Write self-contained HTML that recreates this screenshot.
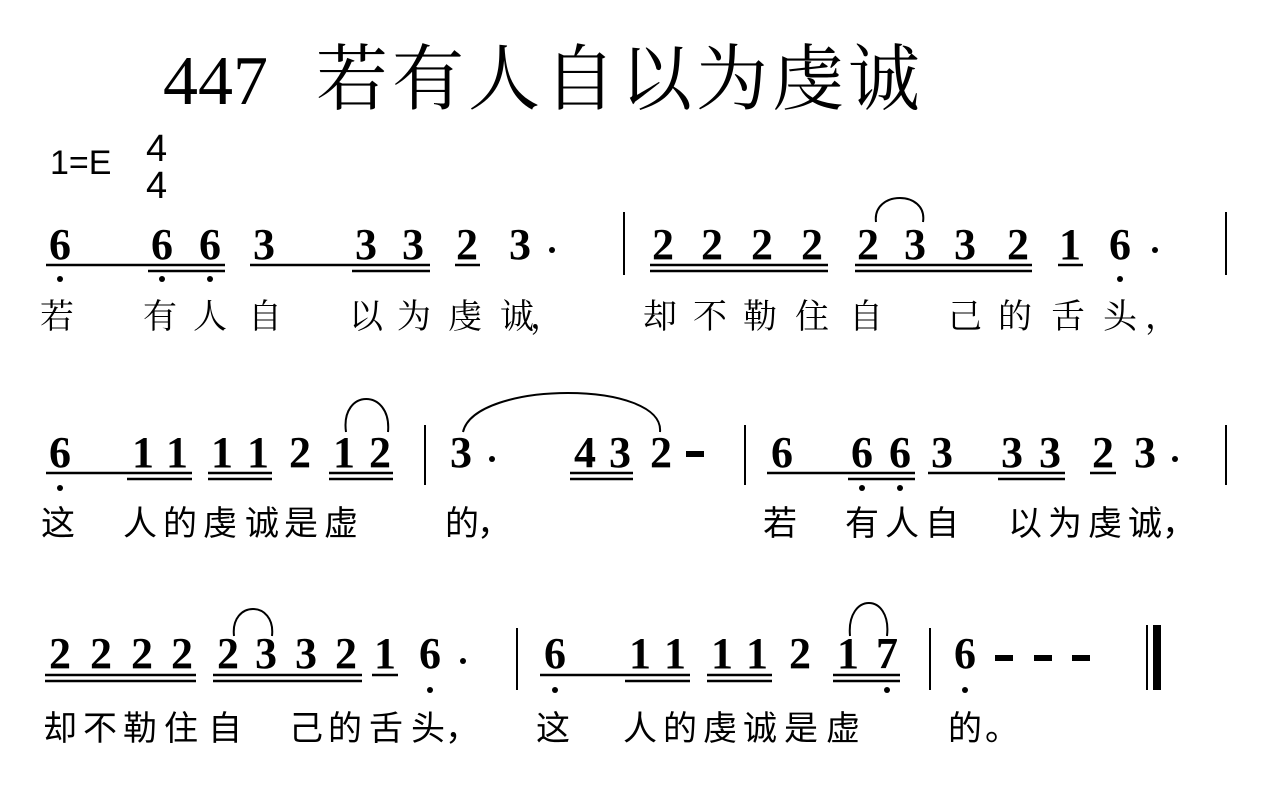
<!DOCTYPE html>
<html><head><meta charset="utf-8"><style>
body{margin:0;background:#fff;width:1280px;height:800px;overflow:hidden}
svg{display:block}
.t{font-family:"Liberation Serif","Noto Serif CJK SC",serif;font-size:70px}
.tc{font-family:"Noto Serif CJK SC",serif;font-size:72px;letter-spacing:4px}
.n{font-family:"Liberation Serif",serif;font-weight:bold;font-size:44px;text-anchor:middle}
.l{font-family:"Liberation Sans","Noto Sans CJK SC",sans-serif;font-size:34px;text-anchor:middle}
.ls{font-family:"Liberation Serif","Noto Serif CJK SC",serif;font-size:34px;text-anchor:middle}
.k{font-family:"Liberation Sans",sans-serif;font-size:34px}
</style></head><body>
<svg width="1280" height="800" viewBox="0 0 1280 800">
<text class="t" x="163" y="104">447</text>
<text class="tc" x="316" y="104">若有人自以为虔诚</text>
<text class="k" x="50" y="174">1=E</text>
<text class="k" x="146" y="161" style="font-size:38px">4</text>
<text class="k" x="146" y="198" style="font-size:38px">4</text>

<g stroke="#000" stroke-width="2.5" fill="none">
<line x1="46" y1="265" x2="225" y2="265"/><line x1="148" y1="271" x2="225" y2="271"/>
<line x1="250" y1="265" x2="430" y2="265"/><line x1="352" y1="271" x2="430" y2="271"/>
<line x1="455" y1="265" x2="480" y2="265"/>
<line x1="650" y1="265" x2="828" y2="265"/><line x1="650" y1="271" x2="828" y2="271"/>
<line x1="855" y1="265" x2="1032" y2="265"/><line x1="855" y1="271" x2="1032" y2="271"/>
<line x1="1058" y1="265" x2="1083" y2="265"/>
<line x1="46" y1="473" x2="192" y2="473"/><line x1="127" y1="479" x2="192" y2="479"/>
<line x1="208" y1="473" x2="272" y2="473"/><line x1="208" y1="479" x2="272" y2="479"/>
<line x1="329" y1="473" x2="393" y2="473"/><line x1="329" y1="479" x2="393" y2="479"/>
<line x1="570" y1="473" x2="633" y2="473"/><line x1="570" y1="479" x2="633" y2="479"/>
<line x1="767" y1="473" x2="915" y2="473"/><line x1="848" y1="479" x2="915" y2="479"/>
<line x1="928" y1="473" x2="1065" y2="473"/><line x1="998" y1="479" x2="1065" y2="479"/>
<line x1="1090" y1="473" x2="1116" y2="473"/>
<line x1="45" y1="675" x2="196" y2="675"/><line x1="45" y1="681" x2="196" y2="681"/>
<line x1="213" y1="675" x2="362" y2="675"/><line x1="213" y1="681" x2="362" y2="681"/>
<line x1="372" y1="675" x2="398" y2="675"/>
<line x1="540" y1="675" x2="690" y2="675"/><line x1="625" y1="681" x2="690" y2="681"/>
<line x1="707" y1="675" x2="772" y2="675"/><line x1="707" y1="681" x2="772" y2="681"/>
<line x1="833" y1="675" x2="900" y2="675"/><line x1="833" y1="681" x2="900" y2="681"/>
</g>
<g stroke="#000" stroke-width="2" fill="none">
<line x1="624" y1="212" x2="624" y2="275"/><line x1="1226" y1="212" x2="1226" y2="275"/>
<line x1="425" y1="425" x2="425" y2="485"/><line x1="745" y1="425" x2="745" y2="485"/><line x1="1226" y1="425" x2="1226" y2="485"/>
<line x1="517" y1="628" x2="517" y2="690"/><line x1="930" y1="628" x2="930" y2="690"/>
<line x1="1147" y1="625" x2="1147" y2="690"/>
<path d="M876 222 C872 190 928 190 923 222"/>
<path d="M346 432 C340 388 392 388 388 432"/>
<path d="M463 432 C475 380 665 380 660 432"/>
<path d="M234 636 C230 600 276 600 272 636"/>
<path d="M850 636 C846 592 892 592 887 636"/>
</g>
<rect x="1153" y="625" width="8" height="65" fill="#000"/>
<rect x="686" y="451" width="18" height="6" fill="#000"/>
<rect x="995" y="655" width="18" height="6" fill="#000"/>
<rect x="1034" y="655" width="18" height="6" fill="#000"/>
<rect x="1072" y="655" width="18" height="6" fill="#000"/>
<g fill="#000">
<circle cx="60" cy="279" r="3"/><circle cx="162" cy="279" r="3"/><circle cx="210" cy="279" r="3"/><circle cx="1120" cy="279" r="3"/>
<circle cx="552" cy="250" r="3"/><circle cx="1155" cy="250" r="3"/>
<circle cx="60" cy="488" r="3"/><circle cx="862" cy="488" r="3"/><circle cx="900" cy="488" r="3"/>
<circle cx="492" cy="459" r="3"/><circle cx="1175" cy="459" r="3"/>
<circle cx="430" cy="690" r="3"/><circle cx="555" cy="690" r="3"/><circle cx="887" cy="690" r="3"/><circle cx="965" cy="690" r="3"/>
<circle cx="463" cy="661" r="3"/>
</g>
<g class="n">
<text x="60" y="259">6</text><text x="162" y="259">6</text><text x="210" y="259">6</text>
<text x="264" y="259">3</text><text x="366" y="259">3</text><text x="413" y="259">3</text>
<text x="467" y="259">2</text><text x="520" y="259">3</text>
<text x="663" y="259">2</text><text x="712" y="259">2</text><text x="762" y="259">2</text><text x="812" y="259">2</text>
<text x="868" y="259">2</text><text x="915" y="259">3</text><text x="965" y="259">3</text><text x="1018" y="259">2</text>
<text x="1070" y="259">1</text><text x="1120" y="259">6</text>

<text x="60" y="467">6</text><text x="143" y="467">1</text><text x="177" y="467">1</text>
<text x="222" y="467">1</text><text x="258" y="467">1</text><text x="300" y="467">2</text>
<text x="344" y="467">1</text><text x="380" y="467">2</text>
<text x="461" y="467">3</text><text x="585" y="467">4</text><text x="620" y="467">3</text><text x="661" y="467">2</text>
<text x="782" y="467">6</text><text x="862" y="467">6</text><text x="900" y="467">6</text>
<text x="942" y="467">3</text><text x="1012" y="467">3</text><text x="1050" y="467">3</text>
<text x="1103" y="467">2</text><text x="1145" y="467">3</text>

<text x="60" y="668">2</text><text x="101" y="668">2</text><text x="142" y="668">2</text><text x="182" y="668">2</text>
<text x="228" y="668">2</text><text x="266" y="668">3</text><text x="306" y="668">3</text><text x="346" y="668">2</text>
<text x="385" y="668">1</text><text x="430" y="668">6</text>
<text x="555" y="668">6</text><text x="640" y="668">1</text><text x="675" y="668">1</text>
<text x="722" y="668">1</text><text x="757" y="668">1</text><text x="800" y="668">2</text>
<text x="848" y="668">1</text><text x="887" y="668">7</text><text x="965" y="668">6</text>
</g>
<g class="ls">
<text x="57" y="328">若</text><text x="160" y="328">有</text><text x="210" y="328">人</text><text x="265" y="328">自</text>
<text x="366" y="328">以</text><text x="414" y="328">为</text><text x="465" y="328">虔</text><text x="517" y="328">诚</text><text x="547" y="328">，</text>
<text x="660" y="328">却</text><text x="710" y="328">不</text><text x="760" y="328">勒</text><text x="812" y="328">住</text><text x="866" y="328">自</text>
<text x="965" y="328">己</text><text x="1015" y="328">的</text><text x="1068" y="328">舌</text><text x="1120" y="328">头</text><text x="1162" y="328">，</text>
</g>
<g class="l">
<text x="58" y="535">这</text><text x="140" y="535">人</text><text x="180" y="535">的</text><text x="220" y="535">虔</text><text x="262" y="535">诚</text><text x="301" y="535">是</text><text x="341" y="535">虚</text>
<text x="462" y="535">的</text><text x="494" y="535">，</text>
<text x="780" y="535">若</text><text x="862" y="535">有</text><text x="902" y="535">人</text><text x="942" y="535">自</text>
<text x="1025" y="535">以</text><text x="1065" y="535">为</text><text x="1105" y="535">虔</text><text x="1145" y="535">诚</text><text x="1179" y="535">，</text>

<text x="60" y="740">却</text><text x="100" y="740">不</text><text x="140" y="740">勒</text><text x="181" y="740">住</text><text x="225" y="740">自</text>
<text x="306" y="740">己</text><text x="345" y="740">的</text><text x="386" y="740">舌</text><text x="428" y="740">头</text><text x="462" y="740">，</text>
<text x="553" y="740">这</text><text x="640" y="740">人</text><text x="680" y="740">的</text><text x="720" y="740">虔</text><text x="760" y="740">诚</text><text x="801" y="740">是</text><text x="843" y="740">虚</text>
<text x="965" y="740">的</text><text x="1002" y="740">。</text>
</g>
</svg>
</body></html>
